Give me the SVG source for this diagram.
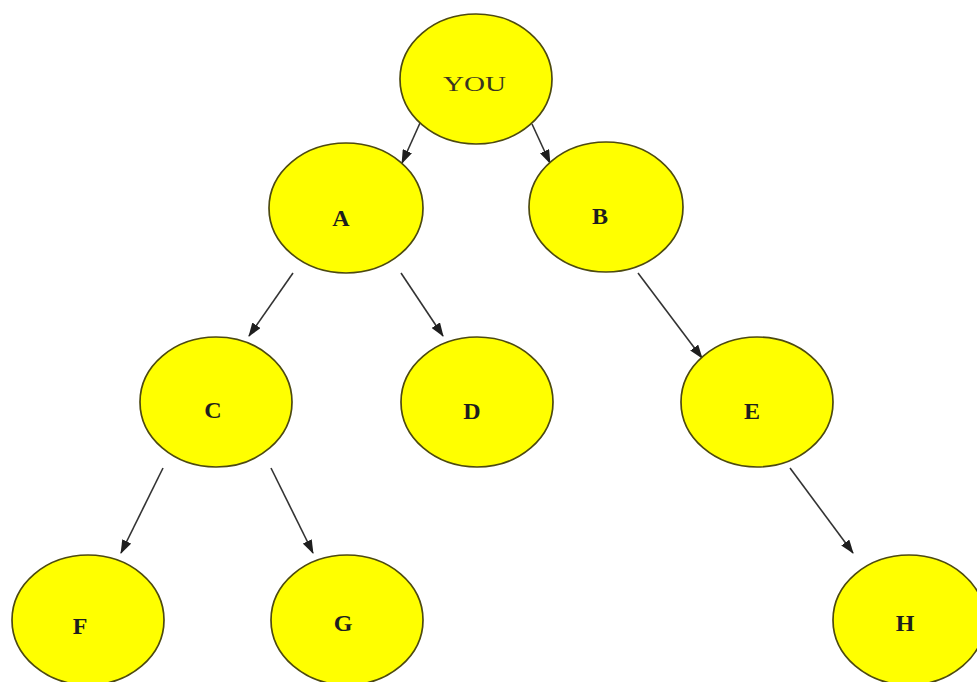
<svg xmlns="http://www.w3.org/2000/svg" width="977" height="682" viewBox="0 0 977 682">
<defs>
<marker id="ah" markerWidth="14" markerHeight="10" refX="13" refY="5" orient="auto" markerUnits="userSpaceOnUse">
<path d="M0,0 L14,5 L0,10 Z" fill="#1e1e1e"/>
</marker>
<style>
.n{fill:#ffff00;stroke:#4d4a10;stroke-width:1.7}
.t{font-family:"Liberation Serif","Times New Roman",serif;font-weight:bold;font-size:24px;fill:#1e1e1e;text-anchor:middle}
.m{font-family:"Liberation Serif","Times New Roman",serif;font-size:20px;fill:#3a3520}
.c{stroke:#333;stroke-width:1.6;fill:none;marker-end:url(#ah)}
</style>
</defs>
<rect width="977" height="682" fill="#fff"/>
<g id="connectors">
<line class="c" x1="420" y1="123" x2="402" y2="163"/>
<line class="c" x1="532" y1="124" x2="550" y2="163"/>
<line class="c" x1="293" y1="273" x2="249" y2="336"/>
<line class="c" x1="401" y1="273" x2="443" y2="336"/>
<line class="c" x1="638" y1="273" x2="702" y2="358"/>
<line class="c" x1="163" y1="468" x2="121" y2="553"/>
<line class="c" x1="271" y1="468" x2="313" y2="553"/>
<line class="c" x1="790" y1="468" x2="853" y2="553"/>
</g>
<g id="node-you"><ellipse class="n" cx="476" cy="79" rx="76" ry="65"/><text class="m" x="443" y="91" textLength="63" lengthAdjust="spacingAndGlyphs">YOU</text></g>
<g id="node-a"><ellipse class="n" cx="346" cy="208" rx="77" ry="65"/><text class="t" x="341" y="226">A</text></g>
<g id="node-b"><ellipse class="n" cx="606" cy="207" rx="77" ry="65"/><text class="t" x="600" y="224">B</text></g>
<g id="node-c"><ellipse class="n" cx="216" cy="402" rx="76" ry="65"/><text class="t" x="213" y="418">C</text></g>
<g id="node-d"><ellipse class="n" cx="477" cy="402" rx="76" ry="65"/><text class="t" x="472" y="419">D</text></g>
<g id="node-e"><ellipse class="n" cx="757" cy="402" rx="76" ry="65"/><text class="t" x="752" y="419">E</text></g>
<g id="node-f"><ellipse class="n" cx="88" cy="620" rx="76" ry="65"/><text class="t" x="80" y="634">F</text></g>
<g id="node-g"><ellipse class="n" cx="347" cy="620" rx="76" ry="65"/><text class="t" x="343" y="631">G</text></g>
<g id="node-h"><ellipse class="n" cx="909" cy="620" rx="76" ry="65"/><text class="t" x="905" y="631">H</text></g>
</svg>
